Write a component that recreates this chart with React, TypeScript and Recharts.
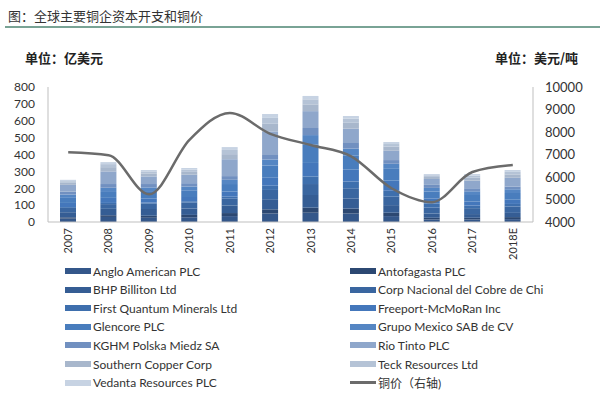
import React from 'react';
import { ComposedChart, Bar, Line, XAxis, YAxis } from 'recharts';

const years = ['2007', '2008', '2009', '2010', '2011', '2012', '2013', '2014', '2015', '2016', '2017', '2018E'];

// capex by company, 亿美元 (stack order bottom -> top)
const angloAmerican = [20, 30, 25, 28, 35, 50, 55, 50, 35, 15, 15, 17];
const antofagasta = [8, 10, 12, 14, 18, 25, 30, 30, 20, 10, 10, 12];
const bhpBilliton = [30, 38, 40, 38, 45, 60, 75, 60, 45, 25, 22, 25];
const codelco = [25, 28, 32, 35, 40, 55, 65, 60, 50, 35, 35, 38];
const firstQuantum = [5, 7, 6, 8, 12, 25, 45, 40, 35, 25, 15, 15];
const freeport = [25, 30, 25, 25, 30, 50, 80, 70, 60, 30, 25, 25];
const glencore = [30, 35, 38, 40, 45, 70, 110, 85, 70, 40, 38, 40];
const grupoMexico = [20, 25, 27, 22, 25, 35, 55, 40, 30, 22, 22, 22];
const kghm = [17, 22, 20, 20, 22, 27, 42, 33, 22, 18, 18, 16];
const rioTinto = [40, 75, 45, 50, 100, 140, 100, 85, 55, 35, 45, 52];
const southernCopper = [12, 25, 18, 17, 30, 45, 40, 35, 25, 12, 18, 20];
const teck = [10, 18, 12, 13, 25, 35, 30, 25, 15, 10, 12, 15];
const vedanta = [8, 12, 8, 10, 17, 23, 20, 15, 12, 7, 9, 11];

// 铜价, 美元/吨 (right axis)
const copperPrice = [7100, 6970, 5230, 7650, 8850, 7920, 7420, 6920, 5500, 4880, 6220, 6530];

const leftTicks = [0, 100, 200, 300, 400, 500, 600, 700, 800];
const rightTicks = [4000, 5000, 6000, 7000, 8000, 9000, 10000];

const companies = [
  { key: 'anglo', name: 'Anglo American PLC', values: angloAmerican, color: '#34578a' },
  { key: 'anto', name: 'Antofagasta PLC', values: antofagasta, color: '#2c4872' },
  { key: 'bhp', name: 'BHP Billiton Ltd', values: bhpBilliton, color: '#355d94' },
  { key: 'codelco', name: 'Corp Nacional del Cobre de Chi', values: codelco, color: '#3a66a0' },
  { key: 'fq', name: 'First Quantum Minerals Ltd', values: firstQuantum, color: '#3e6fad' },
  { key: 'fcx', name: 'Freeport-McMoRan Inc', values: freeport, color: '#4477bb' },
  { key: 'glen', name: 'Glencore PLC', values: glencore, color: '#497dbd' },
  { key: 'gmex', name: 'Grupo Mexico SAB de CV', values: grupoMexico, color: '#5586c3' },
  { key: 'kghm', name: 'KGHM Polska Miedz SA', values: kghm, color: '#7190c0' },
  { key: 'rio', name: 'Rio Tinto PLC', values: rioTinto, color: '#8fa7cb' },
  { key: 'scc', name: 'Southern Copper Corp', values: southernCopper, color: '#a8b7cc' },
  { key: 'teck', name: 'Teck Resources Ltd', values: teck, color: '#b5c3d6' },
  { key: 'ved', name: 'Vedanta Resources PLC', values: vedanta, color: '#c7d3e3' },
];

const data = years.map((year, i) => {
  const row: Record<string, string | number> = { year, price: copperPrice[i] };
  companies.forEach((c) => {
    row[c.key] = c.values[i];
  });
  return row;
});

const FONT = 'Lato, "Noto Sans CJK SC", sans-serif';
const CJK = '"Noto Sans CJK SC", sans-serif';

const YearTick = (props: any) => {
  const { x, y, payload } = props;
  return (
    <text
      transform={`translate(${x},${y - 2}) rotate(-90)`}
      textAnchor="end"
      dy="0.35em"
      fontSize={11}
      fill="#333"
      fontFamily={FONT}
    >
      {payload.value}
    </text>
  );
};

const LegendGrid = () => {
  const items = [
    ...companies.map((c) => ({ name: c.name, color: c.color, line: false })),
    { name: '铜价（右轴)', color: '#6b6b6b', line: true },
  ];
  return (
    <div style={{ position: 'absolute', left: 65, top: 262, width: 520 }}>
      {items.map((it, i) => (
        <div
          key={it.name}
          style={{
            position: 'absolute',
            left: i % 2 === 0 ? 0 : 285,
            top: Math.floor(i / 2) * 18.6,
            display: 'flex',
            alignItems: 'center',
            height: 18,
            fontSize: 12,
            color: '#333',
            fontFamily: FONT,
            whiteSpace: 'nowrap',
          }}
        >
          <span
            style={{
              display: 'inline-block',
              width: 26,
              height: it.line ? 3 : 6,
              background: it.color,
              marginRight: 2,
            }}
          />
          {it.name}
        </div>
      ))}
    </div>
  );
};

export default function App() {
  return (
    <div style={{ position: 'absolute', left: 0, top: 0, width: 600, height: 405, background: '#fff', overflow: 'hidden' }}>
      <div style={{ position: 'absolute', left: 8, top: 6, fontSize: 13, color: '#333', fontFamily: CJK }}>
        图：全球主要铜企资本开支和铜价
      </div>
      <div style={{ position: 'absolute', left: 5, top: 26, width: 595, height: 2, background: '#79a395' }} />
      <div style={{ position: 'absolute', left: 25, top: 48, fontSize: 13, fontWeight: 'bold', color: '#222', fontFamily: CJK }}>
        单位：亿美元
      </div>
      <div style={{ position: 'absolute', left: 495, top: 48, fontSize: 13, fontWeight: 'bold', color: '#222', fontFamily: CJK }}>
        单位：美元/吨
      </div>
      <div style={{ position: 'absolute', left: 0, top: 0 }}>
        <ComposedChart width={600} height={262} data={data} margin={{ top: 87, right: 0, bottom: 8, left: 0 }}>
          <XAxis
            dataKey="year"
            height={32}
            interval={0}
            tickLine={false}
            axisLine={{ stroke: '#bfbfbf' }}
            tick={<YearTick />}
          />
          <YAxis
            yAxisId="left"
            width={48}
            domain={[0, 800]}
            ticks={leftTicks}
            interval={0}
            tickLine={false}
            tickMargin={7}
            axisLine={{ stroke: '#bfbfbf' }}
            tick={{ fontSize: 12, fill: '#333', fontFamily: FONT }}
          />
          <YAxis
            yAxisId="right"
            orientation="right"
            width={67}
            domain={[4000, 10000]}
            ticks={rightTicks}
            interval={0}
            tickLine={false}
            tickMargin={6}
            axisLine={{ stroke: '#bfbfbf' }}
            tick={{ fontSize: 13, fill: '#333', fontFamily: FONT }}
          />
          {companies.map((c) => (
            <Bar
              key={c.key}
              yAxisId="left"
              dataKey={c.key}
              name={c.name}
              stackId="capex"
              fill={c.color}
              barSize={16}
              isAnimationActive={false}
            />
          ))}
          <Line
            yAxisId="right"
            type="monotone"
            dataKey="price"
            name="铜价（右轴)"
            stroke="#6b6b6b"
            strokeWidth={2.5}
            dot={false}
            isAnimationActive={false}
          />
        </ComposedChart>
      </div>
      <LegendGrid />
    </div>
  );
}
